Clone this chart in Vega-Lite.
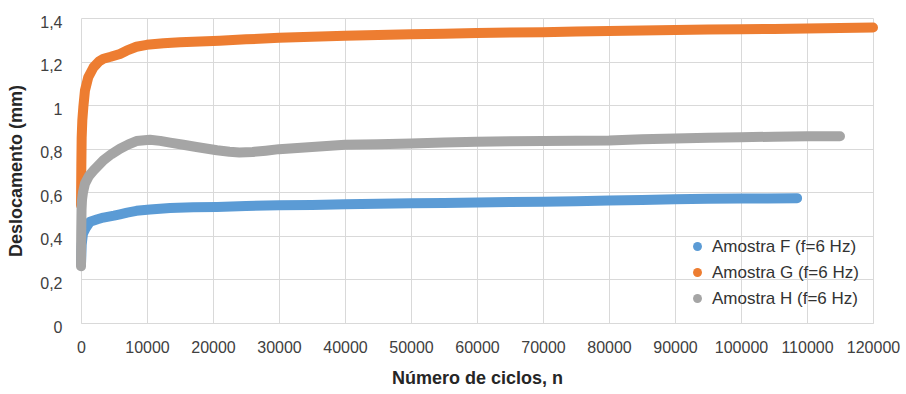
{
  "$schema": "https://vega.github.io/schema/vega-lite/v6.json",
  "width": 792,
  "height": 305,
  "autosize": "none",
  "padding": {"left": 81, "top": 18, "right": 33, "bottom": 71},
  "background": "white",
  "config": {
    "view": {"stroke": null},
    "font": "Liberation Sans"
  },
  "datasets": {
    "F": [
      {"n": 0, "d": 0.27}, {"n": 100, "d": 0.36}, {"n": 300, "d": 0.41}, {"n": 700, "d": 0.435},
      {"n": 1360, "d": 0.465}, {"n": 2500, "d": 0.476}, {"n": 3400, "d": 0.484}, {"n": 5000, "d": 0.493},
      {"n": 5900, "d": 0.499}, {"n": 7000, "d": 0.507}, {"n": 8400, "d": 0.515}, {"n": 10450, "d": 0.521},
      {"n": 13500, "d": 0.528}, {"n": 17000, "d": 0.531}, {"n": 20600, "d": 0.533}, {"n": 25000, "d": 0.537},
      {"n": 30000, "d": 0.54}, {"n": 35000, "d": 0.542}, {"n": 40000, "d": 0.545}, {"n": 45000, "d": 0.547},
      {"n": 50000, "d": 0.55}, {"n": 55000, "d": 0.551}, {"n": 60000, "d": 0.553}, {"n": 65000, "d": 0.555},
      {"n": 70000, "d": 0.557}, {"n": 75000, "d": 0.559}, {"n": 80000, "d": 0.562}, {"n": 85000, "d": 0.565},
      {"n": 90000, "d": 0.568}, {"n": 95000, "d": 0.57}, {"n": 100000, "d": 0.571}, {"n": 104000, "d": 0.572},
      {"n": 108500, "d": 0.573}
    ],
    "G": [
      {"n": 0, "d": 0.54}, {"n": 50, "d": 0.72}, {"n": 100, "d": 0.85}, {"n": 200, "d": 0.93},
      {"n": 350, "d": 0.99}, {"n": 600, "d": 1.067}, {"n": 1100, "d": 1.128}, {"n": 1900, "d": 1.174},
      {"n": 2700, "d": 1.2}, {"n": 3400, "d": 1.213}, {"n": 4500, "d": 1.222}, {"n": 5900, "d": 1.235},
      {"n": 6900, "d": 1.25}, {"n": 8400, "d": 1.268}, {"n": 9950, "d": 1.277}, {"n": 12500, "d": 1.284},
      {"n": 15000, "d": 1.289}, {"n": 18000, "d": 1.292}, {"n": 21000, "d": 1.296}, {"n": 25000, "d": 1.302},
      {"n": 30000, "d": 1.309}, {"n": 35000, "d": 1.314}, {"n": 40000, "d": 1.318}, {"n": 45000, "d": 1.322},
      {"n": 50000, "d": 1.325}, {"n": 55000, "d": 1.328}, {"n": 60000, "d": 1.331}, {"n": 65000, "d": 1.333},
      {"n": 70000, "d": 1.335}, {"n": 75000, "d": 1.338}, {"n": 80000, "d": 1.34}, {"n": 85000, "d": 1.343},
      {"n": 90000, "d": 1.345}, {"n": 95000, "d": 1.347}, {"n": 100000, "d": 1.348}, {"n": 105000, "d": 1.35},
      {"n": 110000, "d": 1.352}, {"n": 115000, "d": 1.354}, {"n": 120000, "d": 1.356}
    ],
    "H": [
      {"n": 0, "d": 0.26}, {"n": 30, "d": 0.4}, {"n": 80, "d": 0.52}, {"n": 150, "d": 0.565},
      {"n": 300, "d": 0.6}, {"n": 600, "d": 0.64}, {"n": 1200, "d": 0.675}, {"n": 1900, "d": 0.7},
      {"n": 3400, "d": 0.747}, {"n": 4600, "d": 0.775}, {"n": 5900, "d": 0.8}, {"n": 7200, "d": 0.82},
      {"n": 8400, "d": 0.835}, {"n": 10450, "d": 0.841}, {"n": 12000, "d": 0.836}, {"n": 13500, "d": 0.828},
      {"n": 15500, "d": 0.818}, {"n": 17500, "d": 0.808}, {"n": 20600, "d": 0.793}, {"n": 22500, "d": 0.786},
      {"n": 24000, "d": 0.783}, {"n": 26000, "d": 0.785}, {"n": 28000, "d": 0.791}, {"n": 30000, "d": 0.798},
      {"n": 35000, "d": 0.808}, {"n": 40000, "d": 0.818}, {"n": 45000, "d": 0.821}, {"n": 50000, "d": 0.824},
      {"n": 55000, "d": 0.828}, {"n": 60000, "d": 0.832}, {"n": 65000, "d": 0.834}, {"n": 70000, "d": 0.835},
      {"n": 75000, "d": 0.837}, {"n": 80000, "d": 0.838}, {"n": 85000, "d": 0.843}, {"n": 90000, "d": 0.847},
      {"n": 95000, "d": 0.85}, {"n": 100000, "d": 0.853}, {"n": 105000, "d": 0.855}, {"n": 110000, "d": 0.857},
      {"n": 115000, "d": 0.857}
    ]
  },
  "layer": [
    {
      "data": {"name": "F"},
      "transform": [{"calculate": "'Amostra F (f=6 Hz)'", "as": "s"}],
      "mark": {"type": "line", "strokeWidth": 10, "strokeCap": "round", "strokeJoin": "round"},
      "encoding": {
        "x": {"field": "n", "type": "quantitative"},
        "y": {"field": "d", "type": "quantitative"},
        "color": {"field": "s", "type": "nominal"}
      }
    },
    {
      "data": {"name": "G"},
      "transform": [{"calculate": "'Amostra G (f=6 Hz)'", "as": "s"}],
      "mark": {"type": "line", "strokeWidth": 10, "strokeCap": "round", "strokeJoin": "round"},
      "encoding": {
        "x": {"field": "n", "type": "quantitative"},
        "y": {"field": "d", "type": "quantitative"},
        "color": {"field": "s", "type": "nominal"}
      }
    },
    {
      "data": {"name": "H"},
      "transform": [{"calculate": "'Amostra H (f=6 Hz)'", "as": "s"}],
      "mark": {"type": "line", "strokeWidth": 10, "strokeCap": "round", "strokeJoin": "round"},
      "encoding": {
        "x": {"field": "n", "type": "quantitative"},
        "y": {"field": "d", "type": "quantitative"},
        "color": {"field": "s", "type": "nominal"}
      }
    }
  ],
  "resolve": {"scale": {"color": "shared"}},
  "encoding": {
    "x": {
      "field": "n", "type": "quantitative",
      "scale": {"domain": [0, 120000], "nice": false, "zero": true},
      "axis": {
        "title": "Número de ciclos, n",
        "values": [0, 10000, 20000, 30000, 40000, 50000, 60000, 70000, 80000, 90000, 100000, 110000, 120000],
        "format": "d",
        "ticks": false,
        "labelOverlap": false,
        "labelFlush": false,
        "domainColor": "#d9d9d9",
        "gridColor": "#d9d9d9",
        "labelFont": "Liberation Sans",
        "labelFontSize": 16,
        "labelColor": "#404040",
        "labelPadding": 16,
        "titleFont": "Liberation Sans",
        "titleFontSize": 18,
        "titleFontWeight": "bold",
        "titleColor": "#262626",
        "titlePadding": 14
      }
    },
    "y": {
      "field": "d", "type": "quantitative",
      "scale": {"domain": [0, 1.4], "nice": false},
      "axis": {
        "title": "Deslocamento (mm)",
        "values": [0, 0.2, 0.4, 0.6, 0.8, 1, 1.2, 1.4],
        "labelExpr": "replace(format(datum.value, '~g'), '.', ',')",
        "ticks": false,
        "domain": false,
        "labelFlush": false,
        "labelOverlap": false,
        "gridColor": "#d9d9d9",
        "labelFont": "Liberation Sans",
        "labelFontSize": 16,
        "labelColor": "#404040",
        "labelPadding": 19,
        "labelOffset": 4,
        "titleFont": "Liberation Sans",
        "titleFontSize": 18,
        "titleFontWeight": "bold",
        "titleColor": "#262626",
        "titlePadding": 14
      }
    },
    "color": {
      "field": "s", "type": "nominal",
      "scale": {
        "domain": ["Amostra F (f=6 Hz)", "Amostra G (f=6 Hz)", "Amostra H (f=6 Hz)"],
        "range": ["#5B9BD5", "#ED7D31", "#A5A5A5"]
      },
      "legend": {
        "title": null,
        "orient": "none",
        "legendX": 608,
        "legendY": 220,
        "symbolType": "circle",
        "symbolSize": 80,
        "labelFont": "Liberation Sans",
        "labelFontSize": 17,
        "labelColor": "#333333",
        "labelOffset": 6,
        "rowPadding": 8,
        "padding": 0,
        "encode": {
          "symbols": {
            "update": {
              "fill": {"scale": "color", "field": "value"},
              "fillOpacity": {"value": 1},
              "strokeWidth": {"value": 0}
            }
          }
        }
      }
    }
  }
}
